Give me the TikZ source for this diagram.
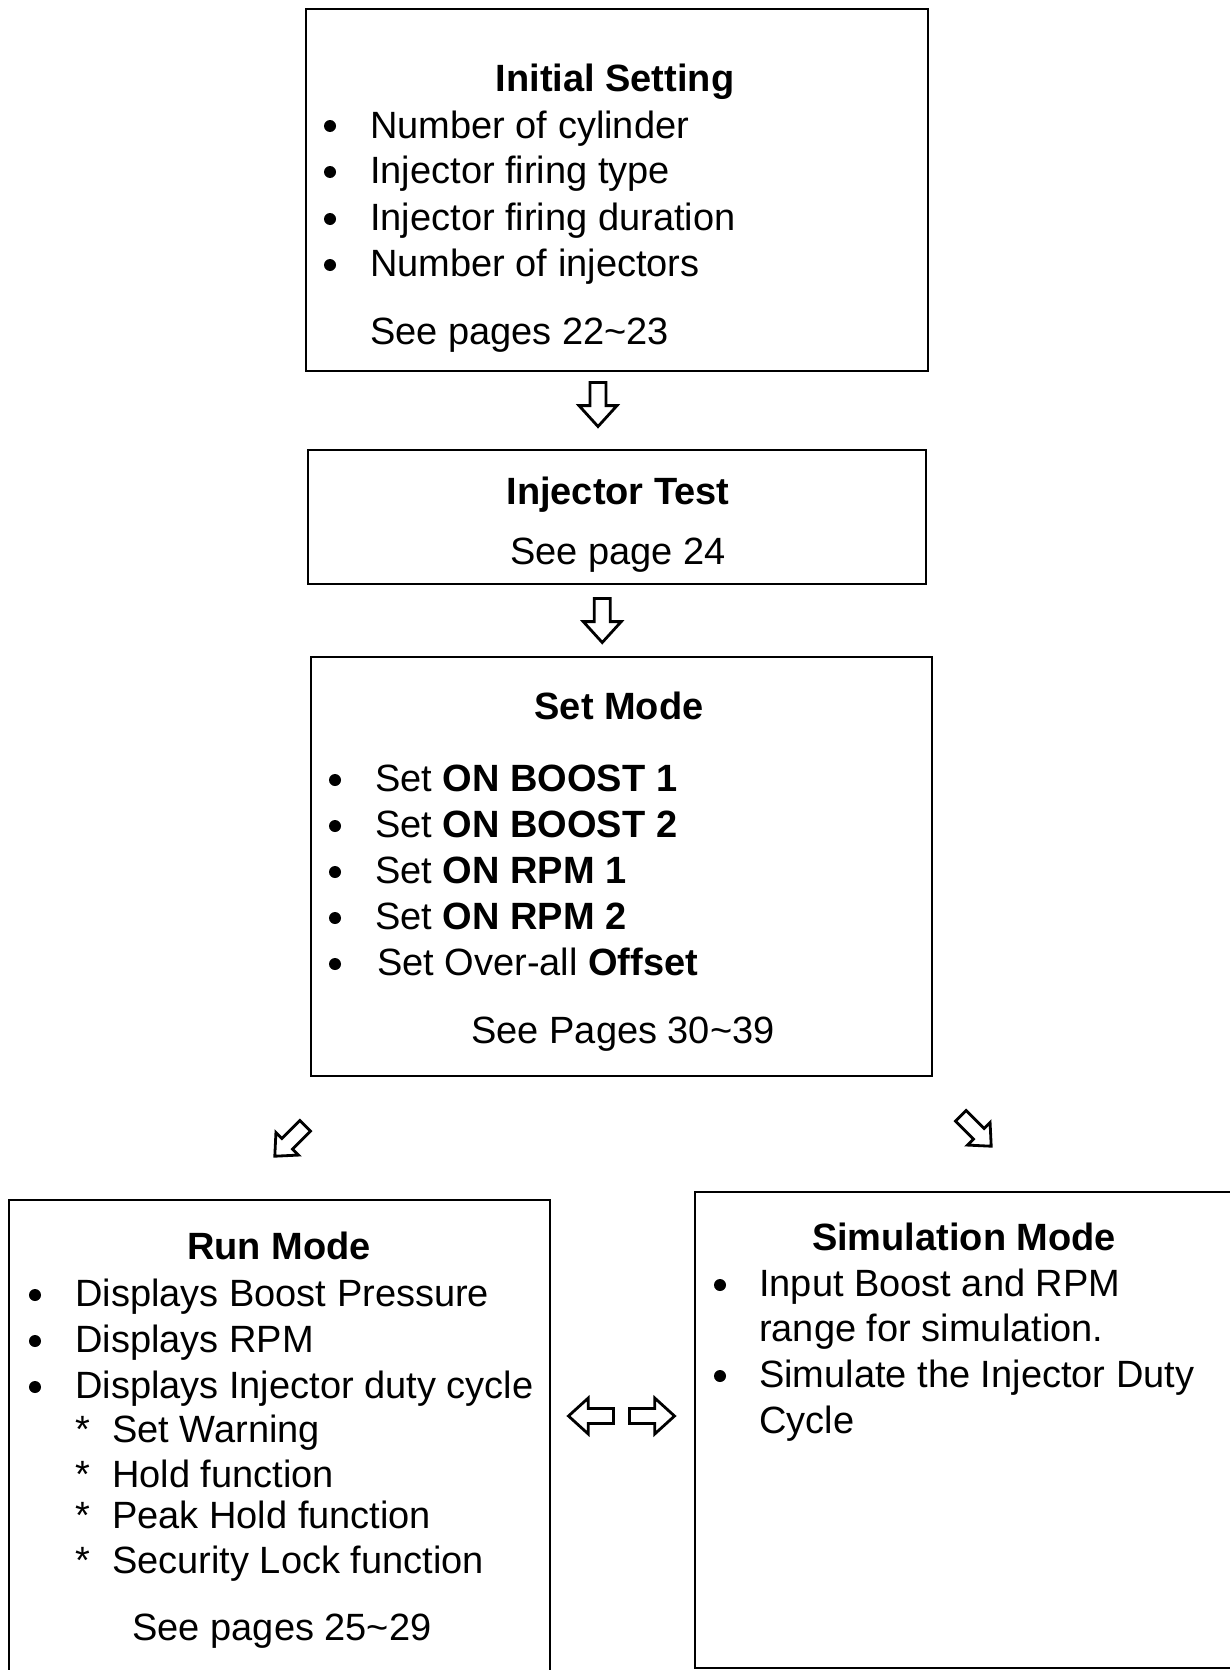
\documentclass[tikz,border=0pt]{standalone}
\usepackage{fontspec}
\setmainfont{Liberation Sans}
\usetikzlibrary{calc}
\begin{document}
\begin{tikzpicture}[x=1pt,y=1pt,
  txt/.style={anchor=base west,inner sep=0pt,font=\fontsize{38}{44}\selectfont},
  ctxt/.style={anchor=base,inner sep=0pt,font=\fontsize{38}{44}\selectfont},
  ttl/.style={anchor=base,inner sep=0pt,font=\fontsize{38}{44}\selectfont\bfseries},
  bul/.style={circle,fill=black,inner sep=0pt,minimum size=12pt},
  frame/.style={draw=black,line width=2.2pt},
  pics/blockarrow/.style args={#1/#2/#3}{code={
    \draw[line width=2.8pt,line join=miter,fill=white]
      (-#1/2,-#3/2) -- (#1/2-#2*0.55,-#3/2) -- (#1/2-#2*0.55,-#2/2) -- (#1/2,0)
      -- (#1/2-#2*0.55,#2/2) -- (#1/2-#2*0.55,#3/2) -- (-#1/2,#3/2) -- cycle;}}
]
\clip (0,0) rectangle (1230,-1670);
\fill[white] (0,0) rectangle (1230,-1670);

% boxes
\node[frame,minimum width=622pt,minimum height=362pt] (init) at (617,-190) {};
\node[frame,minimum width=618pt,minimum height=134pt] (test) at (617,-517) {};
\node[frame,minimum width=621pt,minimum height=419pt] (set) at (621.5,-866.5) {};
\node[frame,minimum width=541pt,minimum height=490pt] (run) at (279.5,-1445) {};
\node[frame,minimum width=550pt,minimum height=476pt] (sim) at (970,-1430) {};

% Initial Setting
\node[ttl] (t1) at (615,-91) {Initial Setting};
\node[bul] (b11) at (330,-126) {};
\node[txt] (l11) at (370,-138) {Number of cylinder};
\node[bul] (b12) at (330,-172) {};
\node[txt] (l12) at (370,-183) {Injector firing type};
\node[bul] (b13) at (330,-219) {};
\node[txt] (l13) at (370,-230) {Injector firing duration};
\node[bul] (b14) at (330,-265) {};
\node[txt] (l14) at (370,-276) {Number of injectors};
\node[txt] (s1) at (370,-344) {See pages 22\char`~23};

% Injector Test
\node[ttl] (t2) at (618,-504) {Injector Test};
\node[ctxt] (s2) at (618,-564) {See page 24};

% Set Mode
\node[ttl] (t3) at (619,-719) {Set Mode};
\node[bul] (b31) at (335,-780) {};
\node[txt] (l31) at (375,-791) {Set \textbf{ON BOOST 1}};
\node[bul] (b32) at (335,-826) {};
\node[txt] (l32) at (375,-837) {Set \textbf{ON BOOST 2}};
\node[bul] (b33) at (335,-872) {};
\node[txt] (l33) at (375,-883) {Set \textbf{ON RPM 1}};
\node[bul] (b34) at (335,-918) {};
\node[txt] (l34) at (375,-929) {Set \textbf{ON RPM 2}};
\node[bul] (b35) at (335,-964) {};
\node[txt] (l35) at (377,-975) {Set Over-all \textbf{Offset}};
\node[ctxt] (s3) at (623,-1043) {See Pages 30\char`~39};

% Run Mode
\node[ttl] (t4) at (279,-1259) {Run Mode};
\node[bul] (b41) at (35,-1295) {};
\node[txt] (l41) at (75,-1306) {Displays Boost Pressure};
\node[bul] (b42) at (35,-1341) {};
\node[txt] (l42) at (75,-1352) {Displays RPM};
\node[bul] (b43) at (35,-1387) {};
\node[txt] (l43) at (75,-1398) {Displays Injector duty cycle};
\node[txt] (a41) at (75,-1442) {*};
\node[txt] (m41) at (112,-1442) {Set Warning};
\node[txt] (a42) at (75,-1487) {*};
\node[txt] (m42) at (112,-1487) {Hold function};
\node[txt] (a43) at (75,-1528) {*};
\node[txt] (m43) at (112,-1528) {Peak Hold function};
\node[txt] (a44) at (75,-1573) {*};
\node[txt] (m44) at (112,-1573) {Security Lock function};
\node[ctxt] (s4) at (282,-1640) {See pages 25\char`~29};

% Simulation Mode
\node[ttl] (t5) at (964,-1250) {Simulation Mode};
\node[bul] (b51) at (720,-1285) {};
\node[txt] (l51) at (759,-1296) {Input Boost and RPM};
\node[txt] (l52) at (759,-1341) {range for simulation.};
\node[bul] (b52) at (720,-1376) {};
\node[txt] (l53) at (759,-1387) {Simulate the Injector Duty};
\node[txt] (l54) at (759,-1433) {Cycle};

% block arrows
\coordinate (a1) at ($(init.south)!0.5!(test.north)+(-19,6)$);
\coordinate (a2) at ($(test.south)!0.5!(set.north)+(-17,0)$);
\coordinate (a3) at (290,-1141);
\coordinate (a4) at (976,-1131);
\coordinate (a5) at (591,-1416);
\coordinate (a6) at (652,-1416);
\pic[rotate=-90] at (a1) {blockarrow={44/38/16}};
\pic[rotate=-90] at (a2) {blockarrow={44/38/16}};
\pic[rotate=-135] at (a3) {blockarrow={43/32/15}};
\pic[rotate=-45] at (a4) {blockarrow={43/32/15}};
\pic[rotate=180] at (a5) {blockarrow={45/36/15}};
\pic at (a6) {blockarrow={45/36/15}};
\end{tikzpicture}
\end{document}
